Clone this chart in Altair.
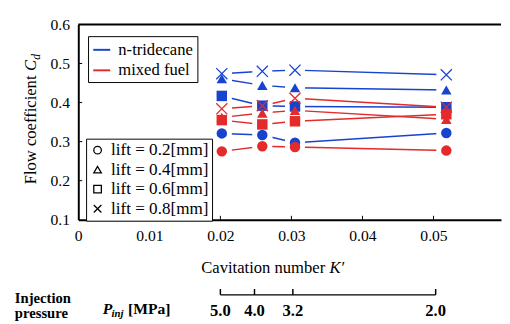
import altair as alt
import pandas as pd

# ---------------- data ----------------
K_values = [0.0202, 0.0259, 0.0305, 0.0518]
fuels = ["n-tridecane", "mixed fuel"]
lift_labels = ["lift = 0.2[mm]", "lift = 0.4[mm]", "lift = 0.6[mm]", "lift = 0.8[mm]"]

trid_02 = [0.321, 0.317, 0.297, 0.322]
trid_04 = [0.461, 0.444, 0.438, 0.432]
trid_06 = [0.417, 0.392, 0.390, 0.388]
trid_08 = [0.474, 0.480, 0.483, 0.471]

mixed_02 = [0.275, 0.288, 0.286, 0.277]
mixed_04 = [0.362, 0.373, 0.380, 0.357]
mixed_06 = [0.355, 0.344, 0.352, 0.370]
mixed_08 = [0.384, 0.392, 0.411, 0.388]

pressure_labels = ["5.0", "4.0", "3.2", "2.0"]
pressure_K = [0.0200, 0.0248, 0.0302, 0.0503]

x_tick_values = [0, 0.01, 0.02, 0.03, 0.04, 0.05]
y_tick_values = [0.1, 0.2, 0.3, 0.4, 0.5, 0.6]
y_inner_ticks = [0.2, 0.3, 0.4, 0.5]
x_inner_ticks = [0.01, 0.02, 0.03, 0.04, 0.05]

# ---------------- table ----------------
rows = []
for fuel, series in [
    ("n-tridecane", [trid_02, trid_04, trid_06, trid_08]),
    ("mixed fuel", [mixed_02, mixed_04, mixed_06, mixed_08]),
]:
    for lift, vals in zip(lift_labels, series):
        for k, v in zip(K_values, vals):
            rows.append({"fuel": fuel, "lift": lift, "K": k, "cd": v})
df = pd.DataFrame(rows)

BLUE = "#1743cf"
RED = "#e42a2a"
FONT = "Liberation Serif"
W, H = 433, 200
XPATH = "M-1,-1L1,1M-1,1L1,-1"

xs = alt.Scale(domain=[0, 0.0595], nice=False, zero=False)
ys = alt.Scale(domain=[0.1, 0.6], nice=False, zero=False)

x_enc = alt.X("K:Q", scale=xs, axis=alt.Axis(
    values=x_tick_values, format="~g", title=None, grid=False, ticks=False,
    labelPadding=8, labelFontSize=16, labelColor="black", labelFlush=False,
    domainWidth=2, domainColor="black"))
y_enc = alt.Y("cd:Q", scale=ys, axis=alt.Axis(
    values=y_tick_values, format=".1f", title=None, grid=False, ticks=False,
    labelPadding=9, labelFontSize=16, labelColor="black",
    domainWidth=2, domainColor="black"))

color_enc = alt.Color("fuel:N", scale=alt.Scale(domain=fuels, range=[BLUE, RED]),
    legend=alt.Legend(title=None, orient="none", legendX=10, legendY=12,
                      symbolType="stroke", symbolSize=300, symbolStrokeWidth=2,
                      strokeColor="black", fillColor="white", padding=4,
                      rowPadding=3, labelFontSize=17, labelOffset=7,
                      labelColor="black", labelFont=FONT))
shape_enc = alt.Shape("lift:N", scale=alt.Scale(domain=lift_labels,
    range=["circle", "triangle-up", "square", XPATH]),
    legend=alt.Legend(title=None, orient="none", legendX=8, legendY=117,
                      symbolFillColor="white", symbolStrokeColor="black",
                      symbolStrokeWidth=1.3, symbolSize=60,
                      strokeColor="black", fillColor="white", padding=3,
                      rowPadding=1, labelFontSize=17.5, labelOffset=5,
                      labelColor="black", labelFont=FONT))

base = alt.Chart(df)
lines = base.mark_line(strokeWidth=1.5).encode(x=x_enc, y=y_enc, color=color_enc, detail="lift:N")
halos = base.mark_point(shape="square", size=420, filled=True, fill="white", color="white",
                        opacity=1, fillOpacity=1, strokeOpacity=0).encode(x=x_enc, y=y_enc)
pts_filled = base.transform_filter(alt.datum.lift != lift_labels[3]).mark_point(
    filled=True, size=115, opacity=1).encode(x=x_enc, y=y_enc, color=color_enc, shape=shape_enc)
pts_x = base.transform_filter(alt.datum.lift == lift_labels[3]).mark_point(
    filled=False, size=130, strokeWidth=1.3, opacity=1).encode(x=x_enc, y=y_enc, color=color_enc, shape=shape_enc)

# inward ticks and top frame line
yt = alt.Chart(pd.DataFrame({"cd": y_inner_ticks})).mark_rule(color="black", strokeWidth=1).encode(
    y=y_enc, x=alt.value(0), x2=alt.value(4))
xt = alt.Chart(pd.DataFrame({"K": x_inner_ticks})).mark_rule(color="black", strokeWidth=1).encode(
    x=x_enc, y=alt.value(H), y2=alt.value(H - 4))
top = alt.Chart(pd.DataFrame({"a": [0]})).mark_rule(color="black", strokeWidth=2).encode(
    x=alt.value(0), x2=alt.value(W), y=alt.value(0))

# composite axis titles
ytitle_center = H / 2 - 3
fs = 17
w_main = (6.582 + 0.25) * fs
w_C = 0.667 * fs
w_d = 0.5 * 12
y0 = ytitle_center + (w_main + w_C + w_d) / 2
one = pd.DataFrame({"a": [0]})
yt1 = alt.Chart(one).mark_text(text="Flow coefficient", angle=270, align="left", baseline="alphabetic",
                               fontSize=fs, font=FONT, color="black").encode(x=alt.value(-43), y=alt.value(y0))
yt2 = alt.Chart(one).mark_text(text="C", angle=270, align="left", baseline="alphabetic",
                               fontSize=fs, font=FONT, fontStyle="italic", color="black").encode(
    x=alt.value(-43), y=alt.value(y0 - w_main))
yt3 = alt.Chart(one).mark_text(text="d", angle=270, align="left", baseline="alphabetic",
                               fontSize=12, font=FONT, fontStyle="italic", color="black").encode(
    x=alt.value(-39), y=alt.value(y0 - w_main - w_C))

xt_start = 126
xt_base = 255
xt1 = alt.Chart(one).mark_text(text="Cavitation number", align="left", baseline="alphabetic",
                               fontSize=fs, font=FONT, color="black").encode(x=alt.value(xt_start), y=alt.value(xt_base))
xt2 = alt.Chart(one).mark_text(text="K\u2032", align="left", baseline="alphabetic",
                               fontSize=fs, font=FONT, fontStyle="italic", color="black").encode(
    x=alt.value(xt_start + (7.472 + 0.25) * fs), y=alt.value(xt_base))

# secondary pressure axis
df_p = pd.DataFrame({"K": pressure_K, "label": pressure_labels})
df_span = pd.DataFrame({"K": [pressure_K[0]], "K2": [pressure_K[-1]]})
sec_line = alt.Chart(df_span).mark_rule(color="black", strokeWidth=1.5).encode(
    x=x_enc, x2="K2:Q", y=alt.value(277))
sec_ticks = alt.Chart(df_p).mark_rule(color="black", strokeWidth=1.5).encode(
    x=x_enc, y=alt.value(271), y2=alt.value(277))
sec_labels = alt.Chart(df_p).mark_text(fontSize=17, fontWeight="bold", font=FONT, baseline="alphabetic",
                                       color="black").encode(x=x_enc, y=alt.value(299), text="label:N")

inj1 = alt.Chart(one).mark_text(text="Injection", align="left", baseline="alphabetic", fontSize=15,
                                fontWeight="bold", font=FONT, color="black").encode(x=alt.value(-65), y=alt.value(285))
inj2 = alt.Chart(one).mark_text(text="pressure", align="left", baseline="alphabetic", fontSize=15,
                                fontWeight="bold", font=FONT, color="black").encode(x=alt.value(-65), y=alt.value(301))
p1 = alt.Chart(one).mark_text(text="P", align="left", baseline="alphabetic", fontSize=16, fontWeight="bold",
                              fontStyle="italic", font=FONT, color="black").encode(x=alt.value(25), y=alt.value(297))
p2 = alt.Chart(one).mark_text(text="inj", align="left", baseline="alphabetic", fontSize=11, fontWeight="bold",
                              fontStyle="italic", font=FONT, color="black").encode(x=alt.value(34), y=alt.value(300))
p3 = alt.Chart(one).mark_text(text="[MPa]", align="left", baseline="alphabetic", fontSize=16, fontWeight="bold",
                              font=FONT, color="black").encode(x=alt.value(51), y=alt.value(297))

chart = alt.layer(
    lines, halos, pts_filled, pts_x, yt, xt, top,
    yt1, yt2, yt3, xt1, xt2,
    sec_line, sec_ticks, sec_labels, inj1, inj2, p1, p2, p3,
).properties(
    width=W, height=H,
    padding={"left": 7, "top": 5, "right": 0, "bottom": 0},
).configure(font=FONT).configure_view(stroke=None)

chart.save("out.html", embed_options={"renderer": "svg", "actions": False})
